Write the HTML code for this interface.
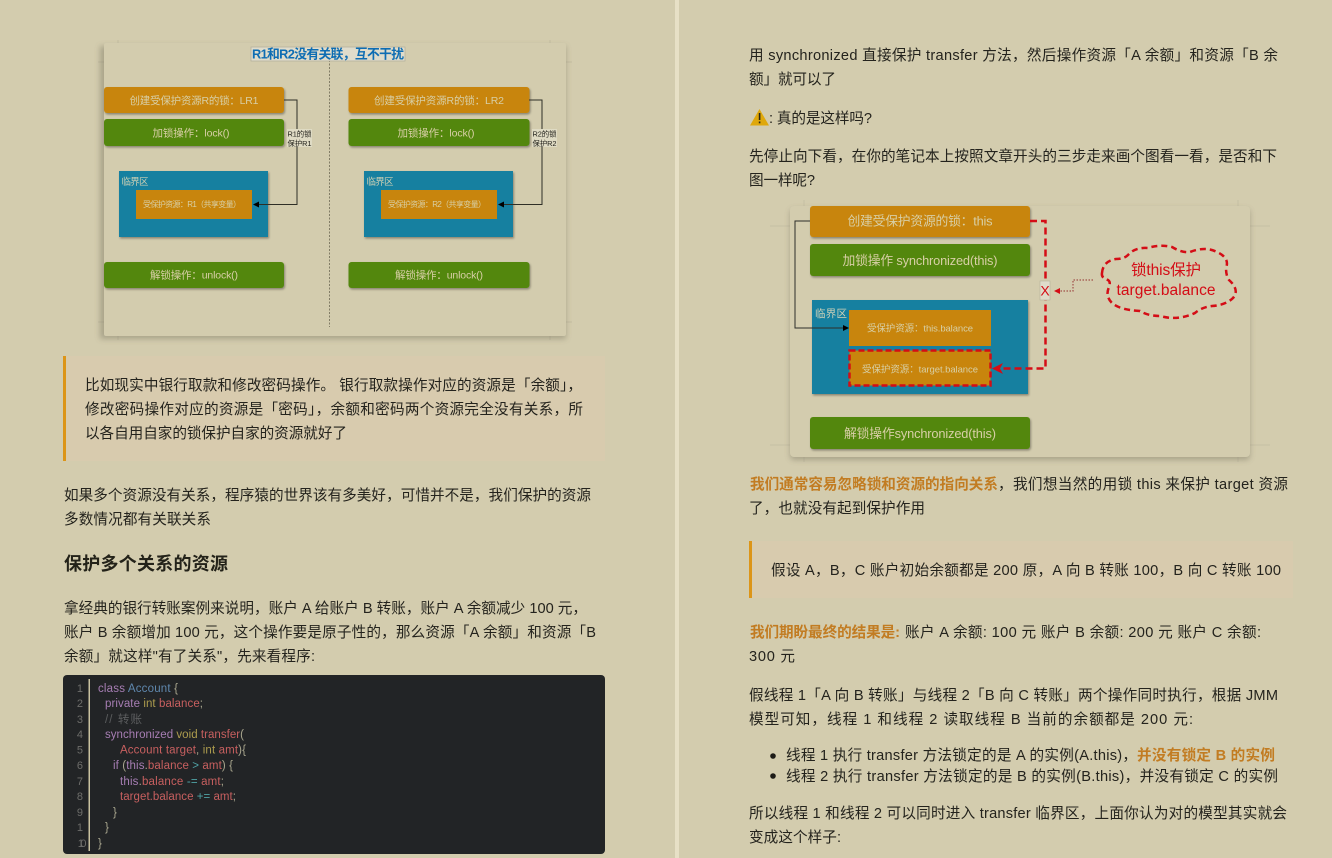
<!DOCTYPE html>
<html lang="zh"><head><meta charset="utf-8"><title>保护多个关系的资源</title>
<style>
html,body{margin:0;padding:0;background:#d3ccae;width:1332px;height:858px;overflow:hidden}
svg{display:block}
text{font-family:"Liberation Sans","Noto Sans CJK SC",sans-serif}
.p{font-size:14.6px;fill:#24231d}
.o{font-size:14.6px;fill:#c27c22;font-weight:bold}
.b{font-size:10.5px;fill:#d8cfa6;text-anchor:middle}
.s{font-size:8px;fill:#d8cfa6;text-anchor:middle}
.c{font-size:11.5px}
.n{font-size:11px;fill:#6d6d6a;text-anchor:end}
</style></head><body>
<svg width="1332" height="858" viewBox="0 0 1332 858" xmlns="http://www.w3.org/2000/svg">
<defs>
<filter id="bl" x="-5%" y="-5%" width="110%" height="110%"><feGaussianBlur stdDeviation="0.3"/></filter>
<filter id="bc" x="-5%" y="-5%" width="110%" height="110%"><feGaussianBlur stdDeviation="0.2"/></filter>
<filter id="sh" x="-10%" y="-10%" width="120%" height="125%"><feGaussianBlur stdDeviation="3"/></filter>
<filter id="ss" x="-10%" y="-20%" width="120%" height="150%"><feDropShadow dx="1" dy="1.5" stdDeviation="1" flood-color="#000" flood-opacity=".35"/></filter>
</defs>
<rect width="1332" height="858" fill="#d3ccae"/>
<rect x="675" y="0" width="4" height="858" fill="#e7e0c6"/>

<!-- Diagram 1 -->
<g filter="url(#bl)">
<path d="M98 62H572M98 322H572M118 40V340M550 40V340" stroke="#c3bca1" stroke-width="1" fill="none"/>
<rect x="100" y="46" width="466" height="293" fill="#77725f" opacity=".45" filter="url(#sh)"/>
<rect x="104" y="43" width="462" height="293" rx="2" fill="#d3ccae"/>
<line x1="329.500" y1="60" x2="329.500" y2="327" stroke="#817c66" stroke-dasharray="2 1.500"/>
<rect x="251" y="47" width="154" height="14" fill="#dfdccb" stroke="#b5b19d" stroke-width=".8"/>
<text x="328" y="58.500" font-size="12.800" font-weight="bold" fill="#0f6db3" text-anchor="middle" textLength="152">R1和R2没有关联，互不干扰</text>
<g filter="url(#ss)">
<rect x="104" y="87" width="180" height="26" rx="3" fill="#c8850a"/>
<rect x="104" y="119" width="180" height="27" rx="3" fill="#52870d"/>
<rect x="104" y="262" width="180" height="26" rx="3" fill="#52870d"/>
<rect x="348.500" y="87" width="181" height="26" rx="3" fill="#c8850a"/>
<rect x="348.500" y="119" width="181" height="27" rx="3" fill="#52870d"/>
<rect x="348.500" y="262" width="181" height="26" rx="3" fill="#52870d"/>
<rect x="119" y="171" width="149" height="66" fill="#1680a0"/>
<rect x="364" y="171" width="149" height="66" fill="#1680a0"/>
</g>
<rect x="136" y="190" width="116" height="29" fill="#c8850a"/>
<rect x="381" y="190" width="116" height="29" fill="#c8850a"/>
<text class="b" x="194" y="104" textLength="129">创建受保护资源R的锁：LR1</text>
<text class="b" x="191" y="136.500" textLength="77">加锁操作：lock()</text>
<text class="b" x="194" y="278.500" textLength="88">解锁操作：unlock()</text>
<text class="b" x="439" y="104" textLength="130">创建受保护资源R的锁：LR2</text>
<text class="b" x="436" y="136.500" textLength="77">加锁操作：lock()</text>
<text class="b" x="439" y="278.500" textLength="88">解锁操作：unlock()</text>
<text x="121.500" y="185" font-size="9.500" fill="#cfd0b4" textLength="27">临界区</text>
<text x="366.500" y="185" font-size="9.500" fill="#cfd0b4" textLength="27">临界区</text>
<text class="s" x="192" y="207" textLength="98">受保护资源：R1（共享变量）</text>
<text class="s" x="437" y="207" textLength="98">受保护资源：R2（共享变量）</text>
<path d="M284 100H297V204.500H256M529 100H542V204.500H501" fill="none" stroke="#2f2e28" stroke-width="1"/>
<path d="M253 204.500L259 201.500V207.500ZM498 204.500L504 201.500V207.500Z" fill="#000"/>
<rect x="287" y="129" width="25" height="18" fill="#dfdbc4"/>
<rect x="532" y="129" width="25" height="18" fill="#dfdbc4"/>
<g font-size="7.400" fill="#1f1e19">
<text x="287.500" y="136.500" textLength="24">R1的锁</text><text x="287.500" y="146" textLength="24">保护R1</text>
<text x="532.500" y="136.500" textLength="24">R2的锁</text><text x="532.500" y="146" textLength="24">保护R2</text>
</g>
</g>

<!-- Left quote -->
<rect x="63" y="356" width="542" height="105" fill="#d8cbae"/>
<rect x="63" y="356" width="3" height="105" fill="#dc9518"/>
<text class="p" x="85" y="390" textLength="497">比如现实中银行取款和修改密码操作。 银行取款操作对应的资源是「余额」，</text>
<text class="p" x="85" y="414" textLength="498">修改密码操作对应的资源是「密码」，余额和密码两个资源完全没有关系，所</text>
<text class="p" x="85" y="438" textLength="262">以各自用自家的锁保护自家的资源就好了</text>

<text class="p" x="64" y="500" textLength="527">如果多个资源没有关系，程序猿的世界该有多美好，可惜并不是，我们保护的资源</text>
<text class="p" x="64" y="524" textLength="147">多数情况都有关联关系</text>
<text x="64" y="570" font-size="18" font-weight="bold" fill="#232219" textLength="164">保护多个关系的资源</text>
<text class="p" x="64" y="613" textLength="523">拿经典的银行转账案例来说明，账户 A 给账户 B 转账，账户 A 余额减少 100 元，</text>
<text class="p" x="64" y="637" textLength="532">账户 B 余额增加 100 元，这个操作要是原子性的，那么资源「A 余额」和资源「B</text>
<text class="p" x="64" y="661" textLength="251">余额」就这样"有了关系"，先来看程序:</text>

<!-- Code -->
<rect x="63" y="675" width="542" height="179" rx="4" fill="#222426"/>
<rect x="88.500" y="679" width="1.500" height="172" fill="#c9c2a0"/>
<g filter="url(#bc)">
<text class="n" x="83" y="692">1</text><text class="n" x="83" y="707">2</text><text class="n" x="83" y="723">3</text><text class="n" x="83" y="738">4</text><text class="n" x="83" y="753.500">5</text><text class="n" x="83" y="769">6</text><text class="n" x="83" y="785">7</text><text class="n" x="83" y="800">8</text><text class="n" x="83" y="816">9</text><text class="n" x="83" y="831">1</text><text class="n" x="83" y="847" letter-spacing="-3.500">10</text>
<text class="c" x="98" y="692" textLength="80"><tspan fill="#a67db3">class</tspan> <tspan fill="#5f87ad">Account</tspan> <tspan fill="#a9a68e">{</tspan></text>
<text class="c" x="105" y="707" textLength="98"><tspan fill="#a67db3">private</tspan> <tspan fill="#ad9c4e">int</tspan> <tspan fill="#c75f5f">balance</tspan><tspan fill="#a9a68e">;</tspan></text>
<text class="c" x="105" y="723" textLength="37" fill="#5b5d5e">// 转账</text>
<text class="c" x="105" y="738" textLength="139"><tspan fill="#a67db3">synchronized</tspan> <tspan fill="#ad9c4e">void</tspan> <tspan fill="#c75f5f">transfer</tspan><tspan fill="#a9a68e">(</tspan></text>
<text class="c" x="120" y="753.500" textLength="126"><tspan fill="#c75f5f">Account target</tspan><tspan fill="#a9a68e">,</tspan> <tspan fill="#ad9c4e">int</tspan> <tspan fill="#c75f5f">amt</tspan><tspan fill="#a9a68e">){</tspan></text>
<text class="c" x="113" y="769" textLength="120"><tspan fill="#a67db3">if</tspan> <tspan fill="#a9a68e">(</tspan><tspan fill="#a67db3">this</tspan><tspan fill="#a9a68e">.</tspan><tspan fill="#c75f5f">balance</tspan> <tspan fill="#4fa3a5">&gt;</tspan> <tspan fill="#c75f5f">amt</tspan><tspan fill="#a9a68e">) {</tspan></text>
<text class="c" x="120" y="785" textLength="104"><tspan fill="#a67db3">this</tspan><tspan fill="#a9a68e">.</tspan><tspan fill="#c75f5f">balance</tspan> <tspan fill="#4fa3a5">-=</tspan> <tspan fill="#c75f5f">amt</tspan><tspan fill="#a9a68e">;</tspan></text>
<text class="c" x="120" y="800" textLength="116"><tspan fill="#c75f5f">target.balance</tspan> <tspan fill="#4fa3a5">+=</tspan> <tspan fill="#c75f5f">amt</tspan><tspan fill="#a9a68e">;</tspan></text>
<text class="c" x="113" y="816" fill="#a9a68e">}</text>
<text class="c" x="105" y="831" fill="#a9a68e">}</text>
<text class="c" x="98" y="847" fill="#a9a68e">}</text>
</g>

<!-- Right column -->
<text class="p" x="749" y="60" textLength="529">用 synchronized 直接保护 transfer 方法，然后操作资源「A 余额」和资源「B 余</text>
<text class="p" x="749" y="84" textLength="87">额」就可以了</text>
<path d="M759.500 109L769 125.500H750Z" fill="#dfa80b"/>
<rect x="758.800" y="113" width="1.600" height="7" fill="#2a2618"/><rect x="758.800" y="121.500" width="1.600" height="1.800" fill="#2a2618"/>
<text class="p" x="769" y="123" textLength="103">: 真的是这样吗?</text>
<text class="p" x="749" y="161" textLength="528">先停止向下看，在你的笔记本上按照文章开头的三步走来画个图看一看，是否和下</text>
<text class="p" x="749" y="185" textLength="66">图一样呢?</text>

<!-- Diagram 2 -->
<g filter="url(#bl)">
<path d="M770 226H1270M770 445H1270M804 200V462M1238 200V462" stroke="#c6bfa4" fill="none"/>
<rect x="790" y="209" width="460" height="251" rx="4" fill="#77725f" opacity=".45" filter="url(#sh)"/>
<rect x="790" y="206" width="460" height="251" rx="4" fill="#d3ccae"/>
<g filter="url(#ss)">
<rect x="810" y="206" width="220" height="31" rx="3" fill="#c8850a"/>
<rect x="810" y="244" width="220" height="32" rx="3" fill="#52870d"/>
<rect x="810" y="417" width="220" height="32" rx="3" fill="#52870d"/>
<rect x="812" y="300" width="216" height="94" fill="#1680a0"/>
</g>
<rect x="849" y="310" width="142" height="36" fill="#c8850a"/>
<rect x="849.500" y="350.500" width="141" height="35" fill="#c8850a" stroke="#d40a14" stroke-width="2.500" stroke-dasharray="6 3"/>
<text x="920" y="225.500" font-size="12.800" fill="#d8cfa6" text-anchor="middle" textLength="145">创建受保护资源的锁：this</text>
<text x="920" y="265" font-size="12.800" fill="#d8cfa6" text-anchor="middle" textLength="155">加锁操作 synchronized(this)</text>
<text x="920" y="438" font-size="12.800" fill="#d8cfa6" text-anchor="middle" textLength="152">解锁操作synchronized(this)</text>
<text x="815" y="317" font-size="10.500" fill="#d0d2b8" textLength="32">临界区</text>
<text x="920" y="331.500" font-size="9.500" fill="#d8cfa6" text-anchor="middle" textLength="106">受保护资源：this.balance</text>
<text x="920" y="372.500" font-size="9.500" fill="#d8cfa6" text-anchor="middle" textLength="116">受保护资源：target.balance</text>
<path d="M810 221H795V328H845" fill="none" stroke="#2f2f2a" stroke-width="1"/>
<path d="M849 328L843 325V331Z" fill="#000"/>
<path d="M1030 221H1045.500V368.500H1000" fill="none" stroke="#d40a14" stroke-width="2.500" stroke-dasharray="7 4"/>
<path d="M992 368.500L1003 363L1000 368.500L1003 374Z" fill="#d40a14"/>
<rect x="1040" y="281" width="10" height="19" fill="#dfdccb" stroke="#b5b19b" stroke-width=".6"/>
<text x="1045" y="295.500" font-size="14" fill="#d40a14" text-anchor="middle">X</text>
<path d="M1093 280H1073V291H1057" fill="none" stroke="#a0504a" stroke-width="1.200" stroke-dasharray="1.500 1.500"/>
<path d="M1054 291L1060 288V294Z" fill="#d40a14"/>
<path d="M1102 273Q1103 261 1116 259Q1124 259 1128 255Q1135 247 1148 248Q1160 244 1172 247Q1182 253 1190 252Q1205 246 1217 252Q1230 258 1226 268Q1226 276 1229 280Q1240 290 1233 298Q1226 305 1212 306Q1202 307 1195 313Q1178 321 1160 316Q1148 316 1140 311Q1120 310 1112 303Q1105 296 1109 287Q1111 282 1108 280Q1101 278 1102 273Z" fill="#d3ccae" stroke="#d40a14" stroke-width="2.500" stroke-dasharray="6 4"/>
<text x="1166" y="275" font-size="15.500" fill="#d40a14" text-anchor="middle" textLength="70">锁this保护</text>
<text x="1166" y="295" font-size="15.500" fill="#d40a14" text-anchor="middle" textLength="99">target.balance</text>
</g>

<text class="o" x="750" y="489" textLength="248">我们通常容易忽略锁和资源的指向关系</text>
<text class="p" x="998" y="489" textLength="290">，我们想当然的用锁 this 来保护 target 资源</text>
<text class="p" x="749" y="513" textLength="176">了，也就没有起到保护作用</text>

<rect x="749" y="541" width="544" height="57" fill="#d8cbae"/>
<rect x="749" y="541" width="3" height="57" fill="#dc9518"/>
<text class="p" x="771" y="575" textLength="510">假设 A，B，C 账户初始余额都是 200 原，A 向 B 转账 100，B 向 C 转账 100</text>

<text class="o" x="750" y="637" textLength="150">我们期盼最终的结果是:</text>
<text class="p" x="905" y="637" textLength="356">账户 A 余额: 100 元 账户 B 余额: 200 元 账户 C 余额:</text>
<text class="p" x="749" y="661" textLength="46">300 元</text>
<text class="p" x="749" y="700" textLength="529">假线程 1「A 向 B 转账」与线程 2「B 向 C 转账」两个操作同时执行，根据 JMM</text>
<text class="p" x="749" y="724" textLength="444">模型可知，线程 1 和线程 2 读取线程 B 当前的余额都是 200 元:</text>
<circle cx="773" cy="756" r="2.800" fill="#1d1c17"/>
<circle cx="773" cy="776" r="2.800" fill="#1d1c17"/>
<text class="p" x="786" y="760" textLength="351">线程 1 执行 transfer 方法锁定的是 A 的实例(A.this)，</text>
<text class="o" x="1137" y="760" textLength="138">并没有锁定 B 的实例</text>
<text class="p" x="786" y="781" textLength="492">线程 2 执行 transfer 方法锁定的是 B 的实例(B.this)，并没有锁定 C 的实例</text>
<text class="p" x="749" y="818" textLength="538">所以线程 1 和线程 2 可以同时进入 transfer 临界区，上面你认为对的模型其实就会</text>
<text class="p" x="749" y="842" textLength="92">变成这个样子:</text>
</svg>
</body></html>
